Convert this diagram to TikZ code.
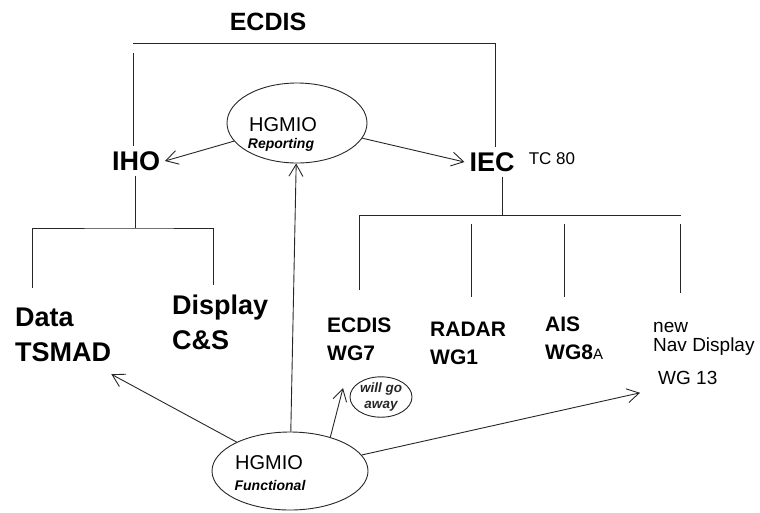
\documentclass[tikz,border=0pt]{standalone}
\usepackage{fontspec}
\setmainfont{Liberation Sans}
\usetikzlibrary{shapes,arrows.meta,positioning,calc}

\begin{document}
\begin{tikzpicture}[x=1pt, y=-1pt,
    big/.style={font=\fontsize{27}{35}\selectfont\bfseries, inner sep=0pt, align=left},
    wg/.style={font=\fontsize{21}{28}\selectfont\bfseries, inner sep=0pt, align=left, anchor=north west},
    org/.style={ellipse, draw, line width=0.9pt, black!85, inner sep=0pt},
    orgtag/.style={font=\fontsize{14}{14}\selectfont\bfseries\itshape, inner sep=0pt},
    orgname/.style={font=\fontsize{20}{20}\selectfont, inner sep=0pt},
    edge/.style={line width=0.9pt, black!85},
    arr/.style={edge, -{Straight Barb[length=12pt,width=14pt]}}
]
    \useasboundingbox (0,0) rectangle (760,512);

    \node[font=\fontsize{25}{25}\selectfont\bfseries] (ecdis) at (268,22) {ECDIS};
    \node[big, outer sep=5pt] (iho) at (136,161) {IHO};
    \node[big, outer sep=5pt] (iec) at (492,162) {IEC};
    \node[font=\fontsize{17}{17}\selectfont] (tc) at (552,159) {TC 80};
    \node[big, anchor=north west] (data) at (15,308) {Data\\TSMAD};
    \node[big, anchor=north west] (disp) at (172,295) {Display\\C\&S};

    \node[wg] (wg7) at (327,318) {ECDIS\\WG7};
    \node[wg] (wg1) at (430,322) {RADAR\\WG1};
    \node[wg] (wg8) at (545,317) {AIS\\WG8{\mdseries\fontsize{15}{15}\selectfont A}};
    \node[anchor=north west, inner sep=0pt, align=left, font=\fontsize{19}{19}\selectfont] (navd) at (653,322)
        {new\\Nav Display\\[14pt]\hspace{5pt}WG 13};

    \node[org, minimum width=140pt, minimum height=80pt] (rep) at (297,123) {};
    \node[orgname] (repname) at (283,125) {HGMIO};
    \node[orgtag] (reptag) at (281,145) {Reporting};

    \node[org, minimum width=156pt, minimum height=78pt] (fun) at (290,471) {};
    \node[orgname] (funname) at (269,463) {HGMIO};
    \node[orgtag] (funtag) at (270,485) {Functional};

    \node[org, minimum width=62pt, minimum height=38pt, align=center,
          font=\fontsize{13.5}{16}\selectfont\bfseries\itshape] (away) at (381,397) {will go\\away};

    \coordinate (ecl) at (133,43);
    \coordinate (ecr) at (495,43);
    \draw[edge] (ecl) -- (ecr) -- (iec.north -| ecr);
    \draw[edge] ([yshift=-10pt]ecl) -- (iho.north -| ecl);

    \coordinate (ihob) at (135,228);
    \draw[edge] (iho.south -| ihob) -- (ihob);
    \draw[edge] (32,288) |- (ihob) -| (213,285);

    \coordinate (iecb) at (502,215);
    \draw[edge] (iec.south -| iecb) -- (iecb);
    \draw[edge] (359,290) |- (681,215);
    \foreach \x/\y in {471/297, 564/297, 680/293}
        \draw[edge] (\x,224) -- (\x,\y);

    \coordinate (gotip) at (343,388);
    \draw[arr] (rep) -- (iho.east);
    \draw[arr] (rep) -- (iec.west);
    \draw[arr] (fun) -- (rep);
    \draw[arr] (fun) -- ([yshift=-12pt]data.south east);
    \draw[arr] (fun.40) -- (gotip);
    \draw[arr] (fun) -- ([shift={(-13pt,-8pt)}]navd.south west);
\end{tikzpicture}
\end{document}
